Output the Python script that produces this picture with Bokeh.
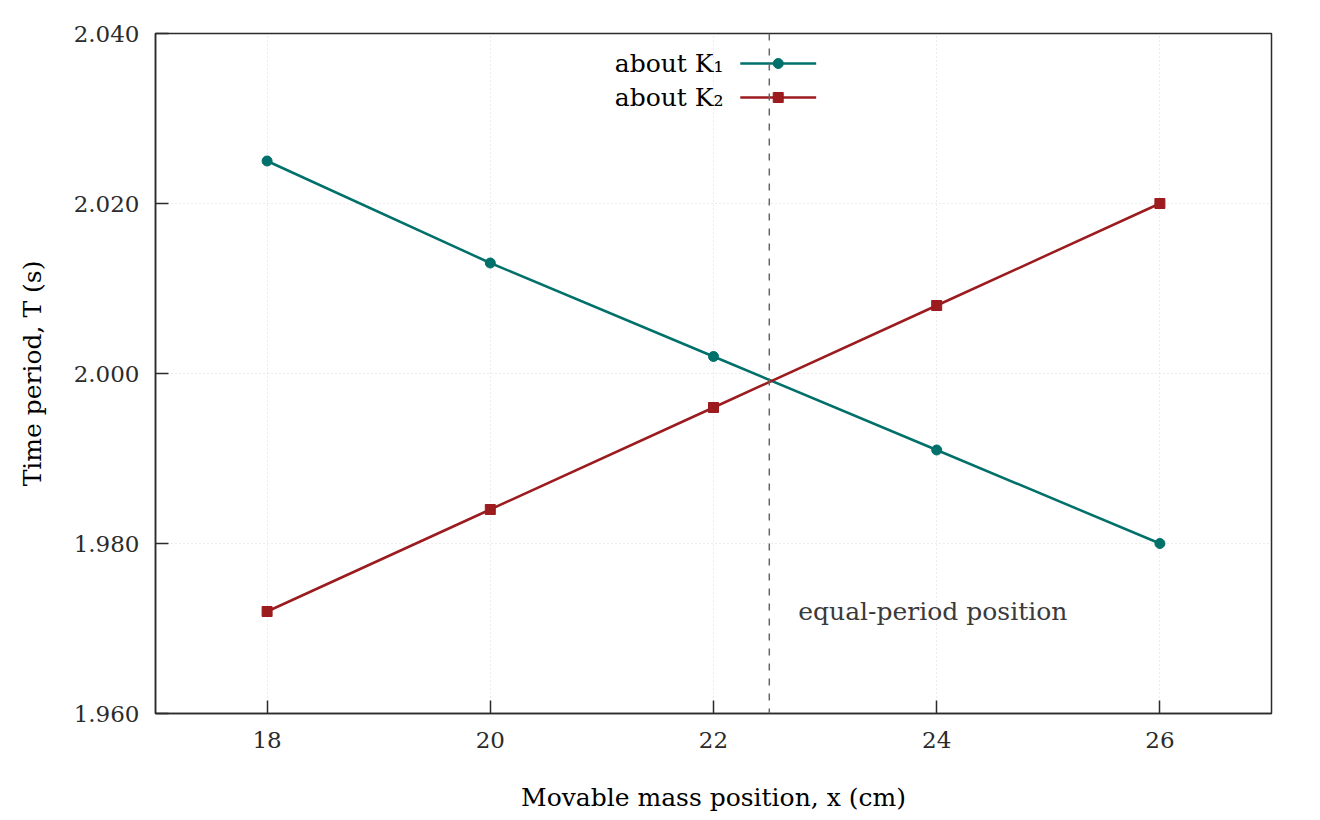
from bokeh.plotting import figure
from bokeh.models import Span, Label, FixedTicker, CustomJSTickFormatter
from bokeh.core.properties import value
from bokeh.embed import file_html
from bokeh.resources import INLINE

# data
x_pos = [18, 20, 22, 24, 26]
t_k1 = [2.025, 2.013, 2.002, 1.991, 1.980]
t_k2 = [1.972, 1.984, 1.996, 2.008, 2.020]
x_ticks = [18, 20, 22, 24, 26]
y_ticks = [1.960, 1.980, 2.000, 2.020, 2.040]
equal_x = 22.5
labels = ["about K\u2081", "about K\u2082"]

FONT = "DejaVu Serif"
TEAL = "#00706a"
RED = "#9b1b1f"
DARK = "#2b2b2b"

p = figure(width=1320, height=820, output_backend="svg", toolbar_location=None,
           x_range=(17, 27), y_range=(1.960, 2.040),
           min_border_left=155, min_border_right=49, min_border_top=33, min_border_bottom=107)
p.background_fill_color = "white"
p.border_fill_color = "white"
p.outline_line_color = DARK
p.outline_line_width = 1.5

for ax in (p.xaxis[0], p.yaxis[0]):
    ax.axis_line_color = DARK
    ax.axis_line_width = 1.5
    ax.major_tick_in = 13
    ax.major_tick_out = 0
    ax.major_tick_line_color = DARK
    ax.major_tick_line_width = 1.5
    ax.minor_tick_line_color = None
    ax.major_label_text_font = FONT
    ax.major_label_text_font_size = "23px"
    ax.major_label_text_color = DARK
    ax.axis_label_text_font = FONT
    ax.axis_label_text_font_size = "25px"
    ax.axis_label_text_font_style = "normal"
    ax.axis_label_text_color = "black"

p.xaxis.ticker = FixedTicker(ticks=x_ticks)
p.yaxis.ticker = FixedTicker(ticks=y_ticks)
p.yaxis.formatter = CustomJSTickFormatter(code="return tick.toFixed(3);")
p.xaxis.major_label_standoff = 18
p.yaxis.major_label_standoff = 16
p.xaxis.axis_label = "Movable mass position, x (cm)"
p.yaxis.axis_label = "Time period, T (s)"
p.xaxis.axis_label_standoff = 32
p.yaxis.axis_label_standoff = 24

p.grid.grid_line_color = "#d8d8d8"
p.grid.grid_line_dash = "1 3"
p.grid.grid_line_width = 1
p.xgrid.ticker = FixedTicker(ticks=x_ticks)
p.ygrid.ticker = FixedTicker(ticks=y_ticks)

# vertical dashed line
p.add_layout(Span(location=equal_x, dimension="height", line_color="#666666",
                  line_dash="7 8", line_width=1.5))

p.line(x_pos, t_k1, line_color=TEAL, line_width=2.5)
p.scatter(x_pos, t_k1, marker="circle", size=10, fill_color=TEAL, line_color=TEAL)
p.line(x_pos, t_k2, line_color=RED, line_width=2.5)
p.scatter(x_pos, t_k2, marker="square", size=10, fill_color=RED, line_color=RED)

p.add_layout(Label(x=equal_x, y=1.972, x_offset=29, text="equal-period position",
                   text_font=FONT, text_font_size="25px", text_color="#3a3a3a",
                   text_baseline="middle"))

# legend (label left, sample right)
leg_y = [2.03647, 2.03247]
leg_x0, leg_x1, leg_xm, leg_tx = 22.24, 22.92, 22.58, 22.09
for lbl, ly, col, mk in zip(labels, leg_y, [TEAL, RED], ["circle", "square"]):
    p.line([leg_x0, leg_x1], [ly, ly], line_color=col, line_width=2.5)
    p.scatter([leg_xm], [ly], marker=mk, size=10, fill_color=col, line_color=col)
    p.text([leg_tx], [ly], text=[lbl], text_font=value(FONT), text_font_size="25px",
           text_align="right", text_baseline="middle", text_color="black")

open("out.html", "w").write(file_html(p, INLINE))
